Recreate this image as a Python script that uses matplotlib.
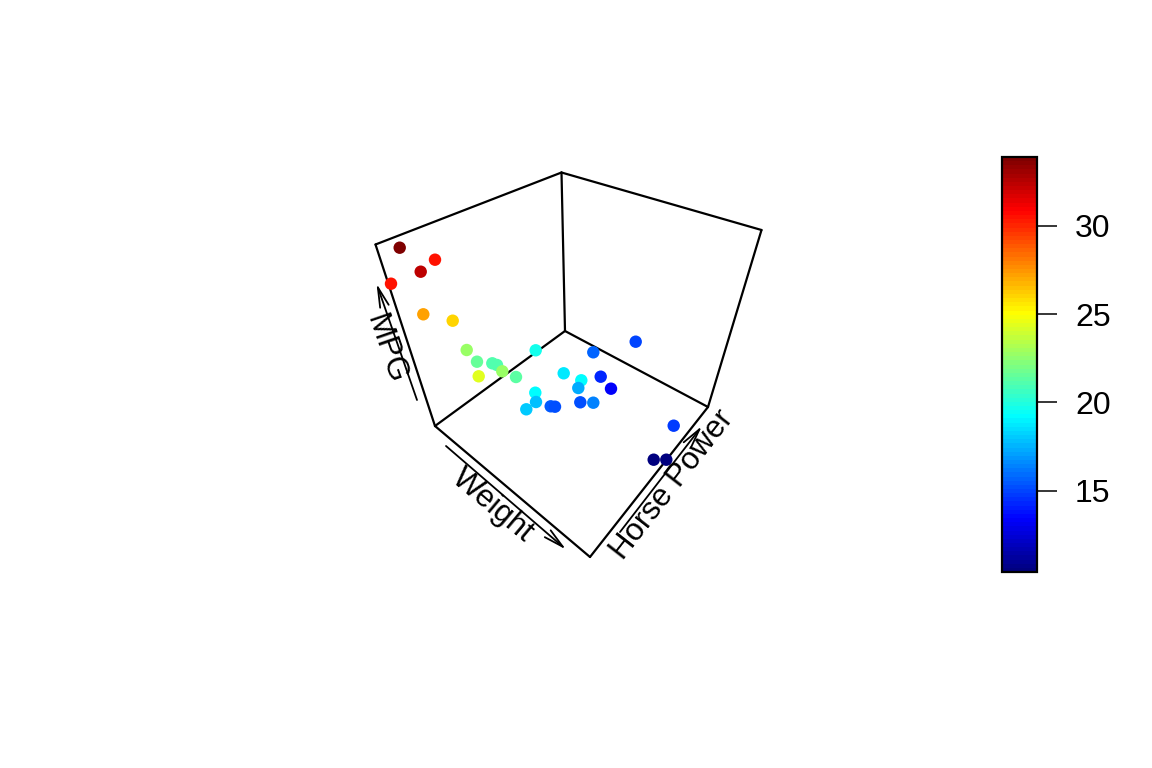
import matplotlib
matplotlib.use("Agg")
import matplotlib.pyplot as plt
from matplotlib.colors import LinearSegmentedColormap

W, H = 1152, 768

# positions on the canvas, with the MPG value of each point
point_x = [399.7, 435.0, 420.7, 391.0, 423.3, 452.7, 466.7, 477.0, 478.7, 492.3, 497.0,
           502.3, 516.0, 535.7, 563.7, 581.3, 578.3, 593.3, 635.7, 600.7, 611.0, 535.3,
           536.0, 526.3, 550.7, 555.0, 580.3, 593.3, 673.7, 653.7, 666.3]
point_y = [247.7, 259.7, 271.7, 283.7, 314.3, 320.7, 350.0, 361.7, 376.3, 363.3, 365.0,
           371.3, 377.0, 350.3, 373.3, 380.3, 388.0, 352.3, 341.7, 376.7, 388.7, 392.7,
           402.0, 409.3, 406.3, 406.7, 402.3, 402.7, 425.7, 459.7, 459.7]
mpg = [33.9, 30.4, 32.4, 30.4, 27.3, 26.0, 22.8, 21.5, 24.4, 21.0, 21.0,
       22.8, 21.4, 19.7, 18.7, 19.2, 17.3, 15.8, 15.0, 14.3, 13.3, 19.2,
       17.8, 18.1, 15.5, 15.2, 15.2, 16.4, 14.7, 10.4, 10.4]

# box corners
corner_x = {"a": 375.5, "b": 561.5, "c": 761.5, "d": 708, "e": 590, "f": 435, "g": 565}
corner_y = {"a": 244.5, "b": 172.5, "c": 230, "d": 407, "e": 557, "f": 426, "g": 331}
box_edges = ["ab", "bc", "cd", "de", "ef", "fa", "bg", "gf", "gd"]

cbar_ticks = [15, 20, 25, 30]
jet_nodes = ["#00007F", "blue", "#007FFF", "cyan", "#7FFF7F", "yellow", "#FF7F00", "red", "#7F0000"]

plt.rcParams["font.family"] = ["Liberation Sans", "DejaVu Sans"]

jet_col = LinearSegmentedColormap.from_list("jet_col", jet_nodes, N=100)

fig = plt.figure(figsize=(W / 100, H / 100), dpi=100)
ax = fig.add_axes([0, 0, 1, 1])
ax.set_xlim(0, W)
ax.set_ylim(H, 0)
ax.axis("off")

for edge in box_edges:
    p, q = edge
    ax.plot([corner_x[p], corner_x[q]], [corner_y[p], corner_y[q]],
            color="black", lw=1.6, solid_capstyle="round", zorder=1)

sc = ax.scatter(point_x, point_y, c=mpg, cmap=jet_col, vmin=min(mpg), vmax=max(mpg),
                s=80, linewidths=0, zorder=2)

# axis arrows and labels
arrows = [((417, 400), (376.5, 283.5)), ((446, 446), (566, 549.5)), ((620, 532), (702, 426))]
for start, end in arrows:
    ax.annotate("", xy=end, xytext=start, zorder=3,
                arrowprops=dict(arrowstyle="->,head_length=0.8,head_width=0.18", color="black",
                                lw=1.3, shrinkA=0, shrinkB=0, mutation_scale=18))

ax.text(386, 349, "MPG", rotation=-71, fontsize=22.5, ha="center", va="center", zorder=4)
ax.text(493, 506, "Weight", rotation=-40, fontsize=22.5, ha="center", va="center", zorder=4)
ax.text(672, 485, "Horse Power", rotation=52, fontsize=22.5, ha="center", va="center", zorder=4)

# colour key
cax = fig.add_axes([1002 / W, 1 - 572 / H, 35 / W, 415 / H])
cb = fig.colorbar(sc, cax=cax, ticks=cbar_ticks)
cb.outline.set_linewidth(1.6)
cb.ax.tick_params(length=14.4, width=1.1, labelsize=23, pad=13)

fig.savefig("out.png", dpi=100)
